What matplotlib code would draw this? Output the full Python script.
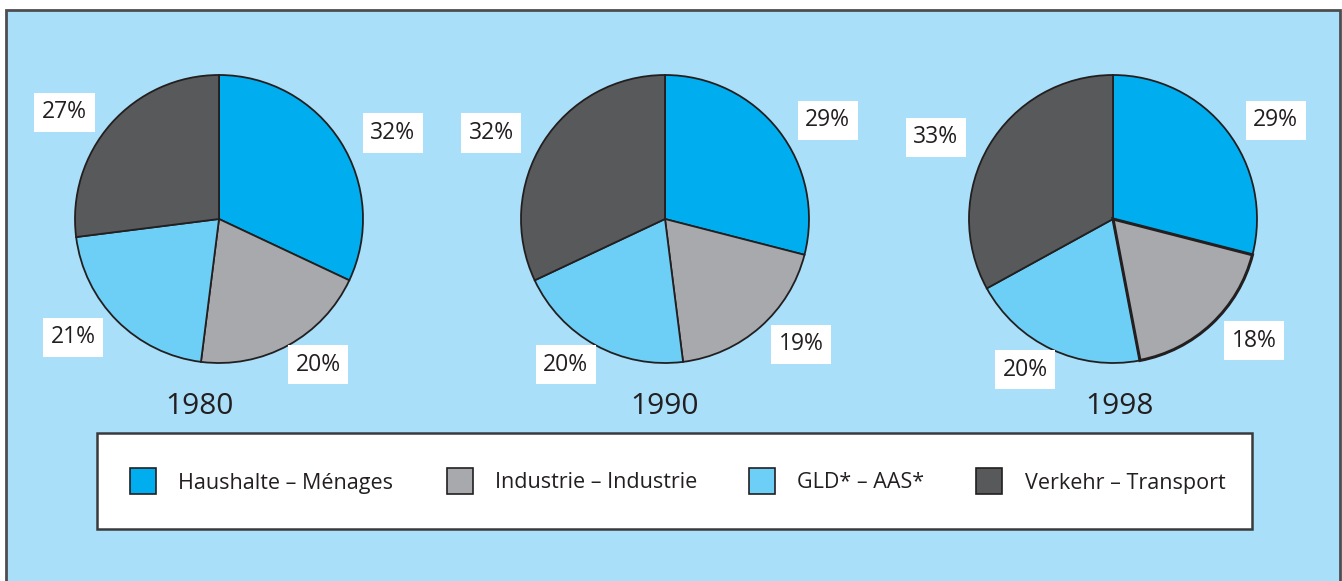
import math
import matplotlib
matplotlib.use("Agg")
import matplotlib.pyplot as plt
from matplotlib.patches import Rectangle

years = ["1980", "1990", "1998"]
categories = ["Haushalte – Ménages", "Industrie – Industrie", "GLD* – AAS*", "Verkehr – Transport"]
shares_1980 = [32, 20, 21, 27]
shares_1990 = [29, 19, 20, 32]
shares_1998 = [29, 18, 20, 33]
colors = ["#00aeef", "#a7a9ac", "#6dcff6", "#58595b"]

W, H = 1342, 581
BG = "#aadff9"
EDGE = "#231f20"
FONT = ["Open Sans", "DejaVu Sans"]
plt.rcParams["font.family"] = FONT

fig = plt.figure(figsize=(W / 100, H / 100), dpi=100)
fig.patch.set_facecolor("white")
ax = fig.add_axes([0, 0, 1, 1])

# outer panel (bottom edge lies outside the picture)
ax.add_patch(Rectangle((6, -20), 1334, H - 10 + 20, facecolor=BG,
                       edgecolor="#4d4d4f", linewidth=2, zorder=0))

centers_x = [219, 665, 1113]
center_y = H - 219
radius = 144
year_x = [200, 665, 1120]
lab_rx, lab_ry = 1.43 * radius, 1.14 * radius

for k, (shares, cx, yx, yr) in enumerate(zip([shares_1980, shares_1990, shares_1998],
                                             centers_x, year_x, years)):
    wedges, _ = ax.pie(shares, colors=colors, startangle=90, counterclock=False,
                       center=(cx, center_y), radius=radius,
                       wedgeprops=dict(edgecolor=EDGE, linewidth=1.3))
    if k == 2:
        wedges[1].set_linewidth(2.2)
        wedges[1].set_zorder(wedges[1].get_zorder() + 0.1)
    total = sum(shares)
    start = 90.0
    for v in shares:
        span = 360.0 * v / total
        mid = math.radians(start - span / 2)
        start -= span
        ax.text(cx + lab_rx * math.cos(mid), center_y + lab_ry * math.sin(mid) - 2, f"{v}%",
                ha="center", va="center", fontsize=16.5, color="#231f20",
                bbox=dict(boxstyle="square,pad=0.33", facecolor="white", edgecolor="none"))
    ax.text(yx, H - 406, yr, ha="center", va="center", fontsize=21.5, color="#231f20")

# legend box
ax.add_patch(Rectangle((97, H - 529), 1155, 96, facecolor="white",
                       edgecolor="#3a3a3c", linewidth=1.8, zorder=3))
sq_x = [130, 447, 749, 976]
txt_x = [178, 495, 797, 1025]
for c, lab, sx, tx in zip(colors, categories, sq_x, txt_x):
    ax.add_patch(Rectangle((sx, H - 494), 26, 26, facecolor=c, edgecolor=EDGE,
                           linewidth=1.2, zorder=4))
    ax.text(tx, H - 483, lab, ha="left", va="center", fontsize=15.5, color="#231f20", zorder=5)

ax.set_xlim(0, W)
ax.set_ylim(0, H)
ax.set_aspect("auto")
ax.axis("off")

fig.savefig("out.png", dpi=100, facecolor=fig.get_facecolor())
